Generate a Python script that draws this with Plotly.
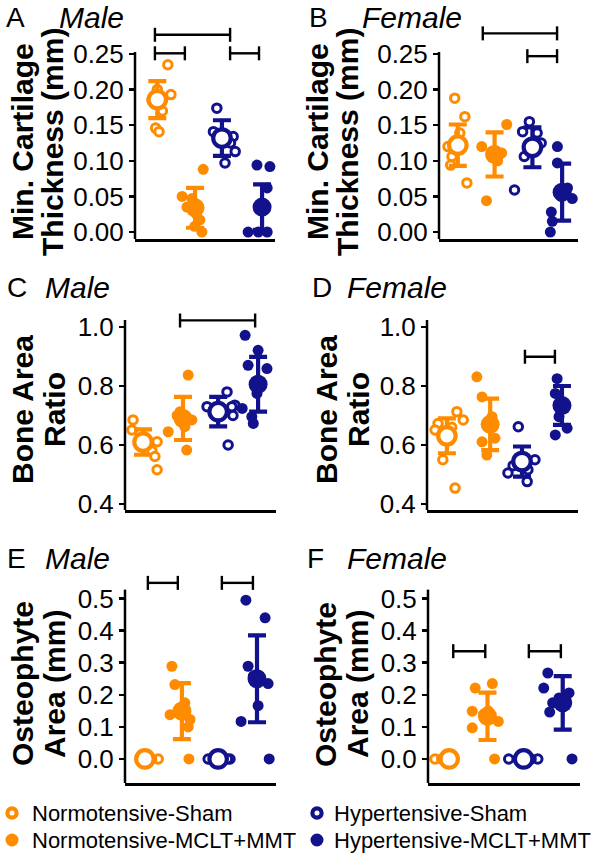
import plotly.graph_objects as go

W, H = 595, 855
FONT = "Liberation Sans, Arial, Helvetica, sans-serif"
ORANGE = "#FF8C00"
NAVY = "#12128C"
COLORS = [ORANGE, ORANGE, NAVY, NAVY]
OPEN = [True, False, True, False]
groups = ["Normotensive-Sham", "Normotensive-MCLT+MMT", "Hypertensive-Sham", "Hypertensive-MCLT+MMT"]

# ---------------- Panel A (Male, min cartilage thickness) ----------------
A_pts = [
    [0.235, 0.200, 0.193, 0.185, 0.170, 0.146, 0.141],
    [0.088, 0.050, 0.047, 0.035, 0.025, 0.017, 0.008, 0.000],
    [0.174, 0.141, 0.134, 0.125, 0.113, 0.097],
    [0.094, 0.092, 0.062, 0.030, 0.000, 0.000, 0.000],
]
A_jit = [
    [0.26, -0.05, 0.35, -0.2, 0.1, -0.1, 0.0],
    [0.3, -0.32, -0.03, -0.18, 0.1, 0.2, 0.05, 0.26],
    [-0.3, -0.4, 0.18, 0.1, 0.24, -0.06],
    [-0.12, 0.26, 0.18, 0.06, -0.38, -0.08, 0.18],
]
A_mean = [0.186, 0.034, 0.132, 0.035]
A_sd = [0.026, 0.028, 0.025, 0.032]
A_mx = [-0.05, 0.06, -0.15, 0.03]
A_brackets = [(-0.12, 0.76, 0.251), (2.09, 2.94, 0.251), (-0.12, 2.09, 0.277)]

# ---------------- Panel B (Female, min cartilage thickness) ----------------
B_pts = [
    [0.188, 0.162, 0.139, 0.120, 0.106, 0.094, 0.069],
    [0.151, 0.120, 0.113, 0.111, 0.100, 0.044],
    [0.155, 0.141, 0.139, 0.125, 0.106, 0.059],
    [0.120, 0.097, 0.062, 0.050, 0.047, 0.028, 0.015, 0.000],
]
B_jit = [
    [-0.24, 0.06, -0.09, -0.44, -0.32, -0.36, 0.12],
    [0.3, -0.44, -0.15, 0.15, 0.03, -0.3],
    [-0.03, -0.23, 0.2, 0.32, -0.18, -0.47],
    [-0.2, -0.2, 0.1, -0.09, 0.24, -0.38, -0.35, -0.41],
]
B_mean = [0.122, 0.109, 0.119, 0.056]
B_sd = [0.029, 0.031, 0.028, 0.040]
B_mx = [-0.15, -0.06, 0.06, -0.06]
B_brackets = [(0.59, 2.79, 0.279), (1.91, 2.79, 0.247)]

# ---------------- Panel C (Male, bone area ratio) ----------------
C_pts = [
    [0.685, 0.651, 0.640, 0.611, 0.580, 0.561, 0.516],
    [0.837, 0.713, 0.700, 0.685, 0.662, 0.645, 0.583],
    [0.780, 0.735, 0.730, 0.730, 0.700, 0.600],
    [0.972, 0.921, 0.870, 0.859, 0.775, 0.724, 0.696, 0.673],
]
C_jit = [
    [-0.35, -0.38, -0.16, 0.3, 0.16, 0.24, 0.3],
    [0.14, -0.08, -0.16, 0.24, 0.05, -0.4, 0.1],
    [0.19, 0.4, -0.35, 0.32, 0.35, 0.22],
    [-0.32, 0.03, -0.24, 0.27, 0.0, -0.4, -0.14, -0.1],
]
C_mean = [0.610, 0.690, 0.713, 0.806]
C_sd = [0.043, 0.073, 0.050, 0.093]
C_mx = [-0.08, 0.0, -0.05, 0.03]
C_brackets = [(0.92, 2.95, 1.0225)]

# ---------------- Panel D (Female, bone area ratio) ----------------
D_pts = [
    [0.713, 0.685, 0.673, 0.660, 0.651, 0.550, 0.454],
    [0.831, 0.763, 0.696, 0.623, 0.611, 0.566],
    [0.662, 0.550, 0.530, 0.516, 0.505, 0.476],
    [0.825, 0.775, 0.730, 0.696, 0.657, 0.634],
]
D_jit = [
    [0.24, 0.41, -0.27, 0.1, -0.35, -0.14, 0.19],
    [-0.22, -0.08, 0.19, 0.27, -0.08, 0.05],
    [-0.1, 0.35, -0.24, 0.16, -0.38, 0.14],
    [-0.05, -0.1, 0.16, 0.0, 0.22, -0.1],
]
D_mean = [0.631, 0.670, 0.544, 0.734]
D_sd = [0.059, 0.0875, 0.051, 0.066]
D_mx = [-0.03, 0.14, 0.0, 0.08]
D_brackets = [(2.08, 2.89, 0.899)]

# ---------------- Panel E (Male, osteophyte area) ----------------
E_pts = [
    [0.0, 0.0, 0.0, 0.0, 0.0, 0.0],
    [0.289, 0.232, 0.175, 0.160, 0.138, 0.123, 0.100, 0.000],
    [0.0, 0.0, 0.0, 0.0, 0.0, 0.0],
    [0.495, 0.440, 0.289, 0.258, 0.235, 0.166, 0.117, 0.000],
]
E_jit = [
    [0.33, -0.1, 0.0, 0.1, -0.05, 0.15],
    [-0.3, -0.22, 0.05, -0.08, -0.35, 0.19, 0.14, 0.16],
    [-0.32, 0.27, 0.0, 0.1, -0.1, 0.2],
    [-0.3, 0.22, -0.24, -0.1, 0.3, 0.03, -0.43, 0.33],
]
E_mean = [0.0, 0.149, 0.0, 0.250]
E_sd = [0.0, 0.0875, 0.0, 0.1355]
E_mx = [-0.03, -0.03, -0.05, 0.0]
E_brackets = [(0.05, 0.86, 0.549), (2.05, 2.89, 0.549)]

# ---------------- Panel F (Female, osteophyte area) ----------------
F_pts = [
    [0.0, 0.0, 0.0, 0.0, 0.0, 0.0],
    [0.235, 0.221, 0.150, 0.149, 0.138, 0.117, 0.097, 0.000],
    [0.0, 0.0, 0.0, 0.0, 0.0, 0.0],
    [0.268, 0.221, 0.206, 0.190, 0.175, 0.146, 0.000],
]
F_jit = [
    [-0.38, -0.1, 0.0, 0.1, -0.2, 0.05],
    [0.16, -0.3, 0.05, -0.38, -0.08, 0.32, -0.38, 0.22],
    [-0.4, 0.38, 0.0, 0.1, -0.1, 0.2],
    [-0.35, -0.46, 0.22, -0.05, -0.22, -0.3, 0.3],
]
F_mean = [0.0, 0.133, 0.0, 0.175]
F_sd = [0.0, 0.074, 0.0, 0.0835]
F_mx = [0.0, 0.03, 0.0, 0.05]
F_brackets = [(0.11, 0.97, 0.336), (2.14, 3.0, 0.336)]

thick_ticks = [0.00, 0.05, 0.10, 0.15, 0.20, 0.25]
ratio_ticks = [0.4, 0.6, 0.8, 1.0]
osteo_ticks = [0.0, 0.1, 0.2, 0.3, 0.4, 0.5]

title_thick = ["Min. Cartilage", "Thickness (mm)"]
title_ratio = ["Bone Area", "Ratio"]
title_osteo = ["Osteophyte", "Area (mm)"]

# layout geometry (pixels)
PANELS = [
    dict(letter="A", sex="Male", pts=A_pts, jit=A_jit, mean=A_mean, sd=A_sd, mx=A_mx, br=A_brackets,
         left=135, right=275, bottom=239, ppu=712, rmin=-0.0098, rmax=0.295, topv=0.2528,
         ticks=thick_ticks, fmt="{:.2f}", xr=(-0.706, 3.41), title=title_thick,
         lx=4, sx=57, ly=17.5, tx=(22, 52), ty=142),
    dict(letter="B", sex="Female", pts=B_pts, jit=B_jit, mean=B_mean, sd=B_sd, mx=B_mx, br=B_brackets,
         left=439, right=578, bottom=239, ppu=712, rmin=-0.0098, rmax=0.295, topv=0.2528,
         ticks=thick_ticks, fmt="{:.2f}", xr=(-0.706, 3.41), title=title_thick,
         lx=307, sx=360, ly=17.5, tx=(317, 347), ty=142),
    dict(letter="C", sex="Male", pts=C_pts, jit=C_jit, mean=C_mean, sd=C_sd, mx=C_mx, br=C_brackets,
         left=125, right=276, bottom=510, ppu=295, rmin=0.3797, rmax=1.055, topv=1.0237,
         ticks=ratio_ticks, fmt="{:.1f}", xr=(-0.568, 3.514), title=title_ratio,
         lx=5, sx=43, ly=287, tx=(22, 54), ty=410),
    dict(letter="D", sex="Female", pts=D_pts, jit=D_jit, mean=D_mean, sd=D_sd, mx=D_mx, br=D_brackets,
         left=427, right=578, bottom=510, ppu=295, rmin=0.3797, rmax=1.055, topv=1.0237,
         ticks=ratio_ticks, fmt="{:.1f}", xr=(-0.568, 3.514), title=title_ratio,
         lx=310, sx=345, ly=287, tx=(326, 358), ty=410),
    dict(letter="E", sex="Male", pts=E_pts, jit=E_jit, mean=E_mean, sd=E_sd, mx=E_mx, br=E_brackets,
         left=125, right=276, bottom=783, ppu=320.7, rmin=-0.075, rmax=0.58, topv=0.528,
         ticks=osteo_ticks, fmt="{:.1f}", xr=(-0.568, 3.514), title=title_osteo,
         lx=5, sx=43, ly=558, tx=(22, 54), ty=684),
    dict(letter="F", sex="Female", pts=F_pts, jit=F_jit, mean=F_mean, sd=F_sd, mx=F_mx, br=F_brackets,
         left=428, right=580, bottom=783, ppu=320.7, rmin=-0.075, rmax=0.58, topv=0.528,
         ticks=osteo_ticks, fmt="{:.1f}", xr=(-0.568, 3.514), title=title_osteo,
         lx=305, sx=345, ly=558, tx=(325, 357), ty=684),
]

fig = go.Figure()
shapes = []
annotations = []
layout_axes = {}


def px_x(p):
    return p / W


def px_y(p):
    return 1 - p / H


for i, P in enumerate(PANELS):
    sfx = "" if i == 0 else str(i + 1)
    xa, ya = "x" + sfx, "y" + sfx
    for g in range(4):
        c = COLORS[g]
        if OPEN[g]:
            mk = dict(symbol="circle", size=8.5, color="white", line=dict(color=c, width=3))
            mm = dict(symbol="circle", size=17.5, color="white", line=dict(color=c, width=4.2))
        else:
            mk = dict(symbol="circle", size=11, color=c, line=dict(width=0))
            mm = dict(symbol="circle", size=19, color=c, line=dict(width=0))
        fig.add_trace(go.Scatter(
            x=[g + j for j in P["jit"][g]], y=P["pts"][g], mode="markers", marker=mk,
            xaxis=xa, yaxis=ya, showlegend=False, cliponaxis=False, hoverinfo="skip", name=groups[g]))
        fig.add_trace(go.Scatter(
            x=[g + P["mx"][g]], y=[P["mean"][g]], mode="markers", marker=mm,
            error_y=dict(type="data", array=[P["sd"][g]], symmetric=True, color=c,
                         thickness=4.2, width=9, visible=P["sd"][g] > 0),
            xaxis=xa, yaxis=ya, showlegend=False, cliponaxis=False, hoverinfo="skip", name=groups[g]))

    top_px = P["bottom"] - (P["rmax"] - P["rmin"]) * P["ppu"]
    layout_axes["xaxis" + sfx] = dict(
        domain=[px_x(P["left"]), px_x(P["right"])], range=list(P["xr"]), anchor=ya,
        showline=True, linewidth=2.5, linecolor="black", showticklabels=False, ticks="",
        showgrid=False, zeroline=False, fixedrange=True)
    layout_axes["yaxis" + sfx] = dict(
        domain=[px_y(P["bottom"]), px_y(top_px)], range=[P["rmin"], P["rmax"]], anchor=xa,
        showline=False, ticks="outside", ticklen=5, tickwidth=2.5, tickcolor="black",
        tickvals=P["ticks"], ticktext=[P["fmt"].format(v) for v in P["ticks"]],
        tickfont=dict(family=FONT, size=26, color="black"),
        showgrid=False, zeroline=False, fixedrange=True)
    # y-axis line, ending just above the top tick
    frac = (P["topv"] - P["rmin"]) / (P["rmax"] - P["rmin"])
    shapes.append(dict(type="line", xref=xa + " domain", yref=ya + " domain",
                       x0=0, x1=0, y0=0, y1=frac, line=dict(color="black", width=2.5)))
    # significance brackets
    for (b0, b1, by) in P["br"]:
        shapes.append(dict(type="line", xref=xa, yref=ya, x0=b0, x1=b1, y0=by, y1=by,
                           line=dict(color="black", width=2.4)))
        for bx in (b0, b1):
            shapes.append(dict(type="line", xref=xa, yref=ya, x0=bx, x1=bx,
                               ysizemode="pixel", yanchor=by, y0=-7, y1=7,
                               line=dict(color="black", width=2.4)))
    # panel letter and sex label
    annotations.append(dict(text=P["letter"], xref="paper", yref="paper", x=px_x(P["lx"]), y=px_y(P["ly"]),
                            xanchor="left", yanchor="middle", showarrow=False,
                            font=dict(family=FONT, size=28, color="black")))
    annotations.append(dict(text="<i>" + P["sex"] + "</i>", xref="paper", yref="paper", x=px_x(P["sx"]),
                            y=px_y(P["ly"]), xanchor="left", yanchor="middle", showarrow=False,
                            font=dict(family=FONT, size=30, color="black")))
    # axis title (two lines)
    for line_text, lxp in zip(P["title"], P["tx"]):
        annotations.append(dict(text="<b>" + line_text + "</b>", xref="paper", yref="paper",
                                x=px_x(lxp), y=px_y(P["ty"]), xanchor="center", yanchor="middle",
                                textangle=-90, showarrow=False,
                                font=dict(family=FONT, size=30, color="black")))

# legend (manual, 2 x 2)
LEG = [
    (0, 12, 813, 30),
    (1, 12, 840, 30),
    (2, 317, 813, 332),
    (3, 317, 840, 332),
]
for g, cx, cy, tx in LEG:
    c = COLORS[g]
    if OPEN[g]:
        shapes.append(dict(type="circle", xref="paper", yref="paper", xsizemode="pixel", ysizemode="pixel",
                           xanchor=px_x(cx), yanchor=px_y(cy), x0=-4.6, x1=4.6, y0=-4.6, y1=4.6,
                           fillcolor="white", line=dict(color=c, width=4.2)))
    else:
        shapes.append(dict(type="circle", xref="paper", yref="paper", xsizemode="pixel", ysizemode="pixel",
                           xanchor=px_x(cx), yanchor=px_y(cy), x0=-6.5, x1=6.5, y0=-6.5, y1=6.5,
                           fillcolor=c, line=dict(color=c, width=0)))
    annotations.append(dict(text=groups[g], xref="paper", yref="paper", x=px_x(tx), y=px_y(cy),
                            xanchor="left", yanchor="middle", showarrow=False,
                            font=dict(family=FONT, size=22, color="black")))

fig.update_layout(
    width=W, height=H, margin=dict(l=0, r=0, t=0, b=0, autoexpand=False),
    paper_bgcolor="white", plot_bgcolor="white", showlegend=False,
    font=dict(family=FONT, color="black"),
    shapes=shapes, annotations=annotations, **layout_axes,
)

fig.write_html("out.html", config=dict(displayModeBar=False, staticPlot=True),
               post_script="document.body.style.margin='0px';document.body.style.overflow='hidden';")
